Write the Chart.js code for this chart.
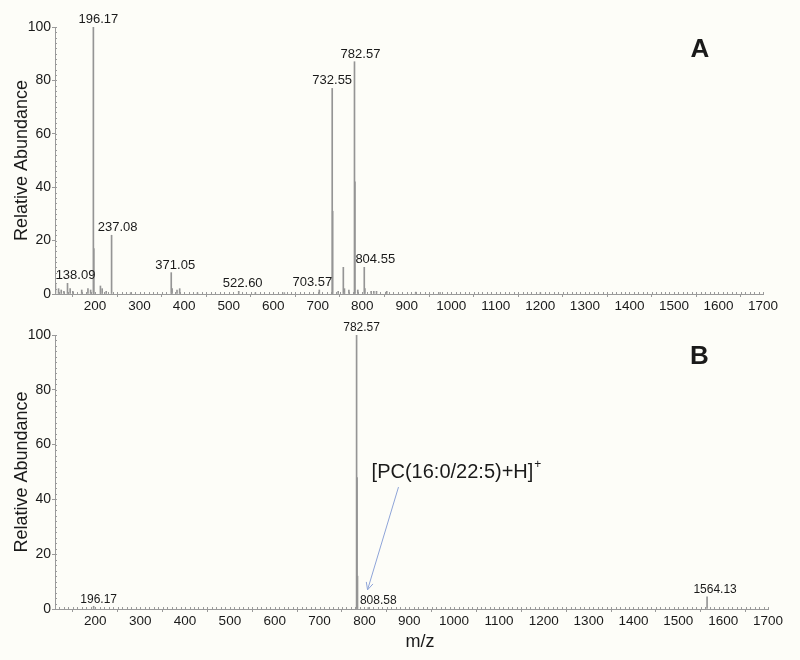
<!DOCTYPE html>
<html>
<head>
<meta charset="utf-8">
<script src="https://cdn.jsdelivr.net/npm/chart.js@4.4.0/dist/chart.umd.min.js"></script>
<style>
  body { margin: 0; background: #fdfdf8; }
  #wrapA { position: absolute; left: 0; top: 0; width: 800px; height: 312px; }
  #wrapB { position: absolute; left: 0; top: 312px; width: 800px; height: 348px; }
</style>
</head>
<body>
<div id="wrapA"><canvas id="chartA"></canvas></div>
<div id="wrapB"><canvas id="chartB"></canvas></div>
<script>
// panel A peaks (m/z, relative abundance)
const mzA  = [111, 118, 124, 130, 138.09, 144, 150, 170, 184, 190, 196.17, 197.2, 212, 216, 225, 237.08, 280,
              371.05, 373, 384, 390, 430, 522.60, 560, 625, 703.57, 732.55, 733.6, 746, 757.5, 760, 770,
              782.57, 783.6, 790, 804.55, 806, 820, 826, 832, 855, 920, 975, 1200];
const intA = [3.5, 2, 1.5, 1, 4, 2, 1, 1.5, 2, 1.5, 100, 17, 3, 2, 1, 22, 0.5,
              8, 2, 1.5, 2, 0.5, 1, 0.5, 0.5, 1.5, 77, 31, 1, 10, 2, 1.5,
              87, 42, 1.5, 10, 2, 1, 1, 1, 1, 0.7, 0.5, 0.5];
const labelsA = ['138.09', '196.17', '237.08', '371.05', '522.60', '703.57', '732.55', '782.57', '804.55'];

// panel B peaks
const mzB  = [196.17, 782.57, 783.6, 784.6, 808.58, 1564.13];
const intB = [1, 100, 48, 12, 0.5, 4.4];
const labelsB = ['196.17', '782.57', '808.58', '1564.13'];

const xTicks = [200, 300, 400, 500, 600, 700, 800, 900, 1000, 1100, 1200, 1300, 1400, 1500, 1600, 1700];
const yTicks = [0, 20, 40, 60, 80, 100];

// label nudges in px (style, not data)
const nudgeA = [8, 5, 6, 4, 4, -7, 0, 6, 11];
const nudgeB = [5, 5, 10, 8];

const FONT = '"Liberation Sans", Arial, sans-serif';
const TEXT = '#1a1a1a';
const AXIS = '#9a9a9a';

const decor = {
  id: 'decor',
  afterDraw(chart, args, opts) {
    const ctx = chart.ctx;
    const xs = chart.scales.x, ys = chart.scales.y;
    const area = chart.chartArea;
    ctx.save();

    // minor ticks
    ctx.strokeStyle = AXIS;
    ctx.lineWidth = 1;
    ctx.beginPath();
    for (let v = 110; v <= 1700; v += 10) {
      const px = Math.round(xs.getPixelForValue(v)) + 0.5;
      ctx.moveTo(px, area.bottom);
      ctx.lineTo(px, area.bottom - 2);
    }
    for (let v = 0; v <= 100; v += 2) {
      const py = Math.round(ys.getPixelForValue(v)) + 0.5;
      ctx.moveTo(area.left, py);
      ctx.lineTo(area.left + 2, py);
    }
    ctx.stroke();

    // peak labels
    ctx.fillStyle = TEXT;
    ctx.font = opts.labelSize + 'px ' + FONT;
    ctx.textAlign = 'center';
    ctx.textBaseline = 'bottom';
    opts.labels.forEach((lab, i) => {
      const mz = parseFloat(lab);
      const k = opts.mz.indexOf(mz);
      const px = xs.getPixelForValue(mz) + opts.nudge[i];
      const py = ys.getPixelForValue(opts.ints[k]) - 1;
      ctx.fillText(lab, px, py);
    });

    // panel letter
    ctx.font = 'bold 26px ' + FONT;
    ctx.textBaseline = 'middle';
    ctx.fillText(opts.letter, xs.getPixelForValue(opts.letterAt[0]), ys.getPixelForValue(opts.letterAt[1]));

    // y title
    ctx.save();
    ctx.translate(22, (area.top + area.bottom) / 2);
    ctx.rotate(-Math.PI / 2);
    ctx.font = '18px ' + FONT;
    ctx.fillText('Relative Abundance', 0, 0);
    ctx.restore();

    if (opts.xTitle) {
      ctx.font = '18px ' + FONT;
      ctx.fillText('m/z', 420, area.bottom + 33);
    }

    if (opts.note) {
      const tx = xs.getPixelForValue(816), ty = ys.getPixelForValue(50);
      ctx.textAlign = 'left';
      ctx.font = '20px ' + FONT;
      const t = '[PC(16:0/22:5)+H]';
      ctx.fillText(t, tx, ty);
      const w = ctx.measureText(t).width;
      ctx.font = '12px ' + FONT;
      ctx.fillText('+', tx + w + 1, ty - 7);

      const x0 = xs.getPixelForValue(876), y0 = ys.getPixelForValue(44.5);
      const x1 = xs.getPixelForValue(807), y1 = ys.getPixelForValue(7);
      ctx.strokeStyle = '#8ea4d8';
      ctx.lineWidth = 1;
      ctx.beginPath();
      ctx.moveTo(x0, y0);
      ctx.lineTo(x1, y1);
      const a = Math.atan2(y1 - y0, x1 - x0);
      ctx.moveTo(x1, y1);
      ctx.lineTo(x1 - 8 * Math.cos(a - 0.45), y1 - 8 * Math.sin(a - 0.45));
      ctx.moveTo(x1, y1);
      ctx.lineTo(x1 - 8 * Math.cos(a + 0.45), y1 - 8 * Math.sin(a + 0.45));
      ctx.stroke();
    }
    ctx.restore();
  }
};

function makeChart(id, mz, ints, xAxisH, pad, extra) {
  return new Chart(document.getElementById(id).getContext('2d'), {
    type: 'bar',
    data: {
      datasets: [{
        data: mz.map((m, i) => ({ x: m, y: ints[i] })),
        backgroundColor: '#959595',
        borderWidth: 0,
        barThickness: 1,
        grouped: false
      }]
    },
    options: {
      responsive: true,
      maintainAspectRatio: false,
      animation: false,
      layout: { padding: pad },
      plugins: {
        legend: { display: false },
        tooltip: { enabled: false },
        decor: extra
      },
      scales: {
        x: {
          type: 'linear',
          min: 110,
          max: 1700,
          offset: false,
          afterBuildTicks: s => { s.ticks = xTicks.map(v => ({ value: v })); },
          afterFit: s => { s.height = xAxisH; },
          grid: { drawOnChartArea: false, tickLength: 3, color: AXIS },
          border: { color: AXIS },
          ticks: { color: TEXT, font: { family: FONT, size: 13.5 }, padding: 1, maxRotation: 0, autoSkip: false,
                   callback: v => String(v) }
        },
        y: {
          min: 0,
          max: 100,
          afterBuildTicks: s => { s.ticks = yTicks.map(v => ({ value: v })); },
          afterFit: s => { s.width = 55; },
          grid: { drawOnChartArea: false, tickLength: 3, color: AXIS },
          border: { color: AXIS },
          ticks: { color: TEXT, font: { family: FONT, size: 14 }, padding: 1, callback: v => String(v) }
        }
      }
    },
    plugins: [decor]
  });
}

makeChart('chartA', mzA, intA, 18, { left: 0, top: 27, right: 37, bottom: 0 },
  { labels: labelsA, mz: mzA, ints: intA, nudge: nudgeA, labelSize: 13, letter: 'A', letterAt: [1558, 91.4], xTitle: false, note: false });

makeChart('chartB', mzB, intB, 51, { left: 0, top: 23, right: 32, bottom: 0 },
  { labels: labelsB, mz: mzB, ints: intB, nudge: nudgeB, labelSize: 12, letter: 'B', letterAt: [1547, 92], xTitle: true, note: true });
</script>
</body>
</html>
